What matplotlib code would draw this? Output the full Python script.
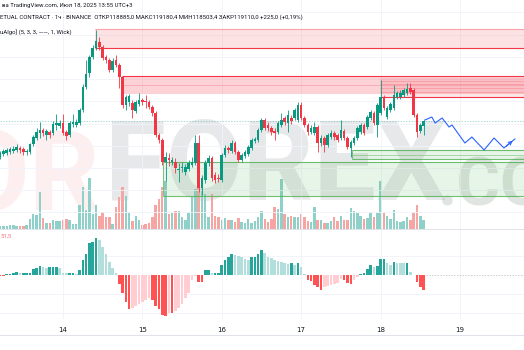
import numpy as np
import matplotlib.pyplot as plt
from matplotlib.lines import Line2D

# BTCUSDT perpetual, 1h candles; hour 0 = 14 Jul 00:00 (UTC+3)
hours = np.arange(-19, 110)

opens = np.array([
    117495, 117630, 117675, 117720, 117765, 117810, 117900, 117855, 117720, 117720,
    118080, 118350, 118575, 118710, 118485, 118620, 118575, 118935, 118890, 119025,
    118620, 118485, 118980, 118935, 119025, 119610, 120645, 121275, 121995, 122400,
    122670, 122445, 121995, 121860, 121410, 121860, 121635, 121095, 119835, 119970,
    119925, 119565, 119880, 120060, 120015, 119970, 119745, 119475, 118485, 118260,
    117270, 117450, 117270, 117270, 116910, 117000, 116820, 116955, 117135, 117225,
    118125, 116100, 116460, 117225, 117450, 116685, 116550, 116460, 117585, 117900,
    117765, 118125, 117720, 117360, 117540, 117630, 117900, 118215, 118260, 118710,
    119160, 118935, 118800, 118665, 118620, 118935, 119250, 119025, 119250, 119250,
    119160, 119835, 119250, 118935, 118620, 118575, 118845, 118125, 118350, 118035,
    118395, 118575, 118485, 118350, 118665, 118350, 117900, 118125, 118350,
    118620, 118935, 118845, 119250, 119475, 118935, 119475, 120195, 119295, 119610,
    119700, 120195, 120195, 120285, 120375, 120600, 120510, 119385, 118665, 118885])

closes = np.array([
    117675, 117765, 117810, 117855, 117855, 117945, 117810, 117720, 117765, 118080,
    118395, 118620, 118710, 118575, 118665, 118485, 118980, 119025, 119025, 118575,
    118440, 119025, 119070, 119070, 119610, 120645, 121230, 121995, 122400, 122715,
    122445, 121950, 121860, 121410, 121815, 121635, 121095, 119835, 120195, 120240,
    119610, 119970, 120060, 119970, 119970, 119745, 119475, 118485, 118260, 117270,
    117495, 117360, 117360, 117000, 116955, 117045, 117045, 117225, 117270, 118125,
    116100, 116550, 117225, 117450, 116550, 116460, 116505, 117585, 117900, 117810,
    118125, 117720, 117360, 117585, 117720, 117945, 118260, 118305, 118710, 119160,
    118800, 118800, 118620, 118575, 119025, 119160, 119070, 119385, 119115, 119610,
    119835, 119250, 118935, 118620, 118800, 118845, 118125, 118350, 118035, 118485,
    118575, 118395, 118260, 118710, 118350, 117945, 118170, 118350, 118800,
    118935, 118575, 119295, 119520, 119025, 119835, 120195, 119700, 119700, 119880,
    120285, 120375, 120375, 120510, 120555, 120420, 119385, 118620, 118935, 119110])

highs = np.array([
    117765, 117855, 117900, 117945, 117990, 118080, 117990, 117945, 117855, 118125,
    118485, 118800, 119070, 118800, 118755, 118710, 119115, 119430, 119160, 119430,
    118710, 119115, 119430, 119205, 119700, 120780, 121860, 122085, 122535, 123210,
    122895, 122535, 122085, 121950, 121950, 122085, 121725, 121140, 120285, 120330,
    120060, 120060, 120375, 120150, 120285, 120060, 119835, 119565, 118575, 118350,
    117720, 117675, 117495, 117450, 117225, 117270, 117180, 117360, 117495, 118485,
    118485, 116685, 117360, 117585, 117540, 116820, 116730, 117675, 118035, 117990,
    118260, 118215, 117810, 117675, 117810, 118035, 118350, 118395, 118800, 119250,
    119250, 119070, 118890, 118800, 119115, 119475, 119340, 119610, 119385, 119700,
    119970, 119970, 119340, 119025, 118935, 119070, 118935, 118485, 118440, 118575,
    118710, 118665, 118575, 119160, 118755, 118440, 118260, 118440, 118890,
    119025, 119025, 119385, 119610, 119565, 119925, 120960, 120285, 119790, 119970,
    120735, 120465, 120510, 120600, 120825, 120825, 120600, 119475, 119025, 119180.4])

lows = np.array([
    117405, 117540, 117585, 117630, 117675, 117720, 117675, 117585, 117585, 117630,
    117990, 118260, 118350, 118440, 118260, 118350, 118485, 118710, 118800, 118485,
    118260, 118395, 118845, 118845, 118935, 119520, 120555, 121095, 121905, 122310,
    122310, 121860, 121725, 121320, 121320, 121545, 120600, 119700, 119610, 119790,
    119250, 119475, 119790, 119835, 119700, 119655, 119340, 118395, 118125, 117135,
    116415, 117090, 117135, 116775, 116370, 116820, 116685, 116865, 117045, 117135,
    115920, 115785, 116325, 117090, 116415, 116325, 116370, 116370, 117495, 117675,
    117675, 117630, 117270, 117270, 117450, 117540, 117810, 118125, 118170, 118620,
    118710, 118665, 118485, 118260, 118530, 118845, 118935, 118620, 118980, 119160,
    119070, 119160, 118845, 118485, 118530, 118485, 117720, 117990, 117720, 117945,
    118305, 118260, 118170, 118260, 118260, 117855, 117495, 118035, 118260,
    118530, 118485, 118755, 119160, 118935, 118395, 119385, 119610, 119205, 119520,
    119610, 120105, 120105, 120195, 120285, 120330, 119295, 118395, 118575, 118503.4])

volumes = np.array([
    3, 3, 3, 4, 4, 3, 3, 3, 4, 10, 15, 14, 37, 11, 6, 6, 9, 8, 8,
    9, 10, 9, 5, 5, 24, 42, 19, 51, 15, 24, 13, 17, 12, 12, 5, 22, 32, 42, 33, 16, 8, 13, 9,
    4, 5, 6, 12, 24, 30, 42, 48, 15, 16, 18, 18, 12, 9, 16, 32, 40, 52, 40, 35, 12, 35, 13, 12,
    9, 11, 9, 9, 7, 11, 7, 6, 10, 6, 8, 12, 18, 10, 7, 10, 22, 20, 50, 15, 12, 13, 12, 12,
    15, 12, 8, 7, 22, 9, 9, 6, 6, 8, 12, 8, 13, 9, 9, 21, 18, 16, 13, 10, 11, 16, 12, 16,
    48, 16, 13, 10, 19, 8, 7, 8, 12, 9, 16, 24, 13, 9])

osc = np.array([
    -1, -1, 1.5, 1.5, 2, 3, 2, 2, 2, 2.5, 6, 7, 9, 8, 7, 8, 8, 8, 7,
    2.5, 2, 2, 2, 1, 5, 15, 21, 32, 33, 37, 35, 28, 21, 13, 7, 2, -9, -18, -27, -34, -33, -31, -29,
    -27, -25, -23, -25, -31, -34, -40, -41, -38, -38, -36, -33, -29, -23, -18, -5, -1, -7, -7, 5, 5, 2, 2, 2,
    10, 15, 18, 21, 20, 19, 18, 16, 15, 18, 18, 21, 25, 22, 18, 17, 15, 14, 13, 12, 11.5, 11.8, 10, 12,
    8, 1, -5, -6, -10, -12, -15, -12, -11, -10, -9, -8, -4, -5, -8, -9, -5, -2, 1, 2, 6, 10, 8, 9,
    16, 16.5, 12, 10, 13, 12, 11.8, 11.6, 12, 3, 0.5, -7, -12, -15])

day_hours = [0, 24, 48, 72, 96, 120]
day_labels = ['14', '15', '16', '17', '18', '19']

# projected path (blue)
path_hours = [109.4, 111.5, 112.5, 114.6, 116.7, 117.6, 121.5, 123.6, 127.3, 130.3, 133.3, 136.6]
path_prices = [119160, 119295, 119025, 119250, 118845, 118935, 118125, 118395, 117810, 118350, 117900, 118305]

# supply (red) and demand (green) zones: start hour, low, high
supply_start = [9.7, 17.8, 95.8]
supply_low = [122400, 120375, 120195]
supply_high = [123255, 121140, 121050]
demand_start = [87.4, 30.2]
demand_low = [117405, 115740]
demand_high = [117810, 117270]

W, H = 524, 350
PX_H = 3.308
X0 = 63
xmin, xmax = -X0 / PX_H, (W - X0) / PX_H

UP, DOWN = '#089981', '#f23645'

fig = plt.figure(figsize=(5.24, 3.5), dpi=100)
fig.patch.set_facecolor('white')


def rect(top, bottom):
    return [0, 1 - bottom / H, 1, (bottom - top) / H]


def clean(a):
    a.set_facecolor('none')
    for s in a.spines.values():
        s.set_visible(False)
    a.tick_params(length=0, labelleft=False, labelbottom=False)
    a.set_xlim(xmin, xmax)


# watermark
wm = dict(fontfamily='Roboto', fontweight='bold', zorder=-5, va='baseline')
fig.text(100 / W, 1 - 210 / H, 'OR', ha='right', fontsize=80, color='#f23645', alpha=0.08, **wm)
fig.text(105 / W, 1 - 200 / H, 'FOREX', ha='left', fontsize=80, color='#9598a1', alpha=0.22, **wm)
fig.text(438 / W, 1 - 205 / H, '.COM', ha='left', fontsize=48, color='#8a9a8c', alpha=0.25, **wm)

vax = fig.add_axes(rect(0, 229), label='vol')
ax = fig.add_axes(rect(0, 229), label='price')
oax = fig.add_axes(rect(229, 319), label='osc')
for a in (vax, ax, oax):
    clean(a)

# volume
up = closes >= opens
vol_colors = np.where(up, '#8fd1c9', '#f7a5a3')
vax.bar(hours, volumes, width=0.75, color=vol_colors, lw=0)
vax.set_ylim(0, 229)

# price
ax.set_ylim(114255, 124560)
ax.set_yticks(np.arange(115000, 124001, 1000))
ax.set_xticks(day_hours)
ax.grid(True, color='#f0f3fa', lw=0.6, zorder=0)
ax.set_axisbelow(True)

zone_alpha = [0.14, 0.22, 0.12]
for s, lo, hi, al in zip(supply_start, supply_low, supply_high, zone_alpha):
    ax.fill_between([s, xmax], lo, hi, color='#f23645', alpha=al, lw=0, zorder=1)
ax.hlines(supply_high[0], supply_start[0], xmax, color='#f7a1a8', lw=0.8, zorder=2)
ax.hlines(supply_low[0], supply_start[0], xmax, color='#f23645', lw=0.8, zorder=2)
ax.hlines(supply_high[1], supply_start[1], xmax, color='#f23645', lw=0.8, zorder=2)
ax.hlines([120735, supply_low[1]], supply_start[1], xmax, color='#f23645', lw=0.4, alpha=0.4, zorder=2)
ax.hlines([120915, 120780, 120600, 120420], supply_start[2], xmax, color='#f23645', lw=0.4, alpha=0.4, zorder=2)
ax.hlines(supply_low[2], supply_start[2], xmax, color='#f23645', lw=0.8, zorder=2)

for s, lo, hi in zip(demand_start, demand_low, demand_high):
    ax.fill_between([s, xmax], lo, hi, color='#4caf50', alpha=0.13, lw=0, zorder=1)
    ax.hlines([lo, hi], s, xmax, color='#4caf50', lw=0.8, alpha=0.8, zorder=2)
    ax.vlines(s, lo, hi, color='#4caf50', lw=0.6, alpha=0.8, zorder=2)
ax.hlines((demand_low[0] + demand_high[0]) / 2, demand_start[0], xmax, color='#4caf50', lw=0.5, alpha=0.6, zorder=2)

ax.axhline(closes[-1], color=UP, lw=0.5, ls=(0, (2, 2)), alpha=0.5, zorder=2)

cc = np.where(up, UP, DOWN)
ax.vlines(hours, lows, highs, colors=cc, lw=0.6, zorder=3)
body_lo = np.minimum(opens, closes)
body_h = np.maximum(np.abs(closes - opens), 25)
ax.bar(hours, body_h, bottom=body_lo, width=0.78, color=cc, lw=0, zorder=4)

ax.plot(path_hours, path_prices, color='#2962ff', lw=0.8, zorder=5)
ax.annotate('', xy=(path_hours[-1], path_prices[-1]), xytext=(path_hours[-2], path_prices[-2]),
            arrowprops=dict(arrowstyle='->', color='#2962ff', lw=0.8, mutation_scale=6), zorder=5)

# oscillator
prev = np.concatenate([[osc[0]], osc[:-1]])
osc_colors = np.where(osc >= 0,
                      np.where(osc >= prev, '#26a69a', '#b2dfdb'),
                      np.where(osc <= prev, '#ff5252', '#ffcdd2'))
oax.set_ylim(-44, 46)
oax.set_yticks([-38, -19, 19])
oax.set_xticks(day_hours)
oax.set_xticklabels(day_labels)
oax.grid(True, color='#f0f3fa', lw=0.6)
oax.set_axisbelow(True)
oax.bar(hours, osc, width=0.78, color=osc_colors, lw=0)
oax.hlines(0, hours[-1] + 0.6, xmax, color='#b2b5be', lw=0.5, linestyles=(0, (2, 2)))
oax.tick_params(axis='x', labelbottom=True, pad=5.5, labelsize=5, labelcolor='#131722')

# pane separators
for yy in (229, 335):
    fig.add_artist(Line2D([0, 1], [1 - yy / H] * 2, transform=fig.transFigure, color='#e0e3eb', lw=0.7))

# header texts
hdr = dict(fontfamily='Roboto', fontsize=4.3, color='#131722', va='center')
fig.text(2 / W, 1 - 6 / H, 'ва TradingView.com, Июл 18, 2025 13:55 UTC+3', **hdr)
fig.text(0, 1 - 17 / H, 'ETUAL CONTRACT · 1ч · BINANCE  ОТКР118885,0 МАКС119180,4 '
         'МИН118503,4 ЗАКР119110,0 +225,0 (+0,19%)', **hdr)
fig.text(0, 1 - 32 / H, 'uAlgo] (5, 3, 3, ——, 1, Wick)', **hdr)
fig.text(1 / W, 1 - 236 / H, '51,5', fontfamily='Roboto', fontsize=4.3, color='#f23645',
         alpha=0.7, va='center')

fig.savefig('out.png', dpi=100)
